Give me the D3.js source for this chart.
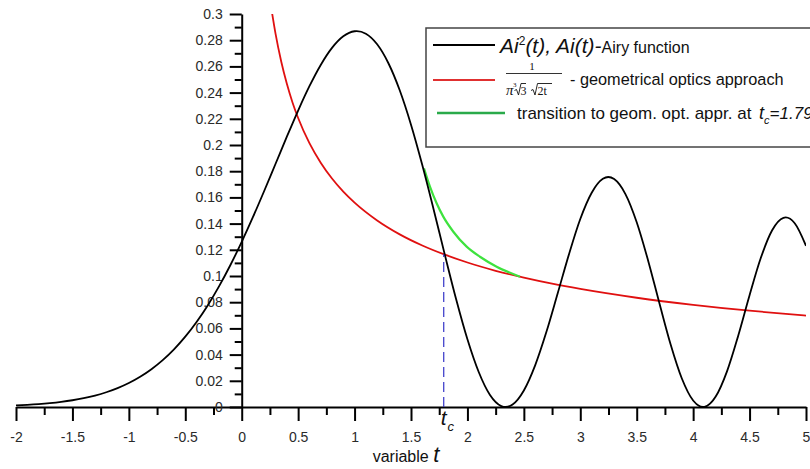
<!DOCTYPE html>
<html>
<head>
<meta charset="utf-8">
<script src="https://cdn.jsdelivr.net/npm/d3@7"></script>
<style>
  body { margin: 0; background: #fff; }
  svg { display: block; font-family: "Liberation Sans", Arial, sans-serif; }
</style>
</head>
<body>
<svg id="chart" width="810" height="469"></svg>
<script>
// Ai^2 curve
const airyT = [-2.0, -1.9, -1.8, -1.7, -1.6, -1.5, -1.4, -1.3, -1.2, -1.1, -1.0, -0.9, -0.8, -0.7, -0.6, -0.5, -0.4, -0.3, -0.2, -0.1,
  0.0, 0.1, 0.2, 0.3, 0.4, 0.5, 0.6, 0.7, 0.8, 0.9, 1.0, 1.019, 1.1, 1.2, 1.3, 1.4, 1.5, 1.6, 1.7, 1.8, 1.9,
  2.0, 2.1, 2.2, 2.3, 2.338, 2.4, 2.5, 2.6, 2.7, 2.8, 2.9, 3.0, 3.1, 3.2, 3.248, 3.3, 3.4, 3.5, 3.6, 3.7, 3.8, 3.9,
  4.0, 4.088, 4.1, 4.2, 4.3, 4.4, 4.5, 4.6, 4.7, 4.8, 4.82, 4.9, 5.0];
const airyV = [0.00122, 0.00165, 0.00221, 0.00295, 0.00391, 0.00515, 0.00673, 0.00874, 0.01126, 0.01441, 0.01830, 0.02307, 0.02885, 0.03578, 0.04402, 0.05368, 0.06489, 0.07773, 0.09224, 0.10838,
  0.12605, 0.14505, 0.16507, 0.18568, 0.20632, 0.22632, 0.24488, 0.26112, 0.27413, 0.28298, 0.28683, 0.28693, 0.28495, 0.27688, 0.26242, 0.24177, 0.21554, 0.18473, 0.15102, 0.11612, 0.08225,
  0.05171, 0.02673, 0.00918, 0.00071, 0.0, 0.00188, 0.01262, 0.03180, 0.05737, 0.08683, 0.11667, 0.14350, 0.16338, 0.17416, 0.17558, 0.17399, 0.16255, 0.14104, 0.11210, 0.07957, 0.04793, 0.02176,
  0.00494, 0.0, 0.00009, 0.00795, 0.02720, 0.05459, 0.08533, 0.11388, 0.13494, 0.14442, 0.14470, 0.14028, 0.12303];

// geometrical optics curve
const geoT = [0.27, 0.3, 0.35, 0.4, 0.45, 0.5, 0.6, 0.7, 0.8, 0.9, 1.0, 1.2, 1.4, 1.6, 1.8, 2.0, 2.25, 2.5, 2.75, 3.0, 3.5, 4.0, 4.5, 5.0];
const geoV = [0.3002, 0.2848, 0.2637, 0.2467, 0.2325, 0.2206, 0.2014, 0.1865, 0.1744, 0.1644, 0.1560, 0.1424, 0.1318, 0.1233, 0.1163, 0.1103, 0.1040, 0.0987, 0.0941, 0.0901, 0.0834, 0.0780, 0.0735, 0.0698];

// transition curve
const transT = [1.615, 1.668, 1.727, 1.786, 1.875, 1.993, 2.111, 2.259, 2.466];
const transV = [0.1822, 0.1682, 0.1555, 0.1453, 0.1338, 0.1224, 0.1147, 0.1071, 0.0995];

const tc = 1.79;
const tcV = 0.1166;

const xTicks = [-2, -1.5, -1, -0.5, 0, 0.5, 1, 1.5, 2, 2.5, 3, 3.5, 4, 4.5, 5];
const xMinor = [-1.75, -1.25, -0.75, -0.25, 0.25, 0.75, 1.25, 1.75, 2.25, 2.75, 3.25, 3.75, 4.25, 4.75];
const yTicks = [0, 0.02, 0.04, 0.06, 0.08, 0.1, 0.12, 0.14, 0.16, 0.18, 0.2, 0.22, 0.24, 0.26, 0.28, 0.3];
const yMinor = [0.01, 0.03, 0.05, 0.07, 0.09, 0.11, 0.13, 0.15, 0.17, 0.19, 0.21, 0.23, 0.25, 0.27, 0.29];

var svg = d3.select("#chart");
svg.append("rect").attr("width", 810).attr("height", 469).attr("fill", "#fff");

var x = d3.scaleLinear().domain([-2, 5]).range([16, 806]);
var y = d3.scaleLinear().domain([0, 0.3]).range([407, 14]);

svg.append("clipPath").attr("id", "plot")
  .append("rect").attr("x", 16).attr("y", 14).attr("width", 790).attr("height", 393);

var fmt = function (d) { return String(d); };

// x axis
svg.append("g")
   .attr("transform", "translate(0," + y(0) + ")")
   .call(d3.axisBottom(x).tickValues(xMinor).tickSize(8).tickSizeOuter(0).tickFormat(""))
   .call(function (g) { g.select(".domain").remove(); });
var xAxis = svg.append("g")
   .attr("transform", "translate(0," + y(0) + ")")
   .call(d3.axisBottom(x).tickValues(xTicks).tickSize(14).tickSizeOuter(0).tickPadding(11).tickFormat(fmt));

// y axis
svg.append("g")
   .attr("transform", "translate(" + x(0) + ",0)")
   .call(d3.axisLeft(y).tickValues(yMinor).tickSize(7).tickSizeOuter(0).tickFormat(""))
   .call(function (g) { g.select(".domain").remove(); });
var yAxis = svg.append("g")
   .attr("transform", "translate(" + x(0) + ",0)")
   .call(d3.axisLeft(y).tickValues(yTicks).tickSize(12).tickSizeOuter(0).tickPadding(7).tickFormat(fmt));

svg.selectAll(".tick line").attr("stroke", "#000").attr("stroke-width", 2);
svg.selectAll(".domain").attr("stroke", "#000").attr("stroke-width", 2);
svg.selectAll(".tick text")
   .attr("font-family", "Liberation Sans, Arial, sans-serif")
   .attr("font-size", 14)
   .attr("fill", "#2a2a2a");

// curves
var line = d3.line()
  .x(function (d) { return x(d[0]); })
  .y(function (d) { return y(d[1]); })
  .curve(d3.curveMonotoneX);

var plot = svg.append("g").attr("clip-path", "url(#plot)");

plot.append("path")
    .attr("d", line(d3.zip(geoT, geoV)))
    .attr("fill", "none").attr("stroke", "#e01010").attr("stroke-width", 1.8);

plot.append("path")
    .attr("d", line(d3.zip(transT, transV)))
    .attr("fill", "none").attr("stroke", "#3ee23e").attr("stroke-width", 2.2);

plot.append("path")
    .attr("d", line(d3.zip(airyT, airyV)))
    .attr("fill", "none").attr("stroke", "#000").attr("stroke-width", 1.8);

// t_c marker
svg.append("line")
   .attr("x1", x(tc)).attr("x2", x(tc))
   .attr("y1", y(0)).attr("y2", y(tcV))
   .attr("stroke", "#3535c8").attr("stroke-width", 1.2)
   .attr("stroke-dasharray", "10,5");

var tcLabel = svg.append("text")
   .attr("x", x(tc) - 3).attr("y", 425)
   .attr("font-size", 21).attr("font-style", "italic").attr("fill", "#111");
tcLabel.append("tspan").text("t");
tcLabel.append("tspan").attr("font-size", 13).attr("dy", 6).attr("dx", 1).text("c");

// axis title
var xTitle = svg.append("text")
   .attr("x", 406).attr("y", 462)
   .attr("text-anchor", "middle")
   .attr("font-size", 16).attr("fill", "#111");
xTitle.append("tspan").text("variable ");
xTitle.append("tspan").attr("font-style", "italic").attr("font-size", 22).text("t");

// legend
var legend = svg.append("g");
legend.append("rect")
   .attr("x", 426).attr("y", 28).attr("width", 400).attr("height", 119)
   .attr("fill", "#fff").attr("stroke", "#444").attr("stroke-width", 1.5);

legend.append("line").attr("x1", 433).attr("x2", 495).attr("y1", 45).attr("y2", 45)
   .attr("stroke", "#000").attr("stroke-width", 1.8);
var l1 = legend.append("text").attr("x", 500).attr("y", 53).attr("fill", "#111");
l1.append("tspan").attr("font-style", "italic").attr("font-size", 21).text("Ai");
l1.append("tspan").attr("font-size", 12).attr("dy", -8).text("2");
l1.append("tspan").attr("font-style", "italic").attr("font-size", 21).attr("dy", 8).text("(t), Ai(t)-");
l1.append("tspan").attr("font-size", 16).text("Airy function");

legend.append("line").attr("x1", 433).attr("x2", 495).attr("y1", 80).attr("y2", 80)
   .attr("stroke", "#e03030").attr("stroke-width", 1.8);
legend.append("text").attr("x", 532).attr("y", 70).attr("text-anchor", "middle")
   .attr("font-family", "Liberation Serif, serif").attr("font-size", 11).attr("fill", "#111").text("1");
legend.append("line").attr("x1", 506).attr("x2", 562).attr("y1", 73.5).attr("y2", 73.5)
   .attr("stroke", "#333").attr("stroke-width", 1);
var den = legend.append("g").attr("font-family", "Liberation Serif, serif").attr("fill", "#111");
den.append("text").attr("x", 506).attr("y", 95).attr("font-size", 15).attr("font-style", "italic").text("π");
den.append("text").attr("x", 513).attr("y", 87).attr("font-size", 7).text("3");
den.append("path").attr("d", "M514.5,90.5 L516.5,89.5 L518.5,95 L521,83.5 L526,83.5")
   .attr("fill", "none").attr("stroke", "#111").attr("stroke-width", 0.9);
den.append("text").attr("x", 520.5).attr("y", 95).attr("font-size", 12).text("3");
den.append("path").attr("d", "M531,90.5 L533,89.5 L535,95 L537.5,83.5 L552,83.5")
   .attr("fill", "none").attr("stroke", "#111").attr("stroke-width", 0.9);
den.append("text").attr("x", 537.5).attr("y", 95).attr("font-size", 12).text("2t");
legend.append("text").attr("x", 570).attr("y", 85).attr("font-size", 16.3).attr("fill", "#111")
   .text("- geometrical optics approach");

legend.append("line").attr("x1", 437).attr("x2", 505).attr("y1", 113).attr("y2", 113)
   .attr("stroke", "#2aaa4a").attr("stroke-width", 2.5);
var l3 = legend.append("text").attr("x", 517).attr("y", 119).attr("fill", "#111");
l3.append("tspan").attr("font-size", 17).text("transition to geom. opt. appr. at ");
l3.append("tspan").attr("font-style", "italic").attr("font-size", 18).attr("dx", 3).text("t");
l3.append("tspan").attr("font-style", "italic").attr("font-size", 11).attr("dy", 5).text("c");
l3.append("tspan").attr("font-style", "italic").attr("font-size", 17).attr("dy", -5).text("=1.79");
</script>
</body>
</html>
